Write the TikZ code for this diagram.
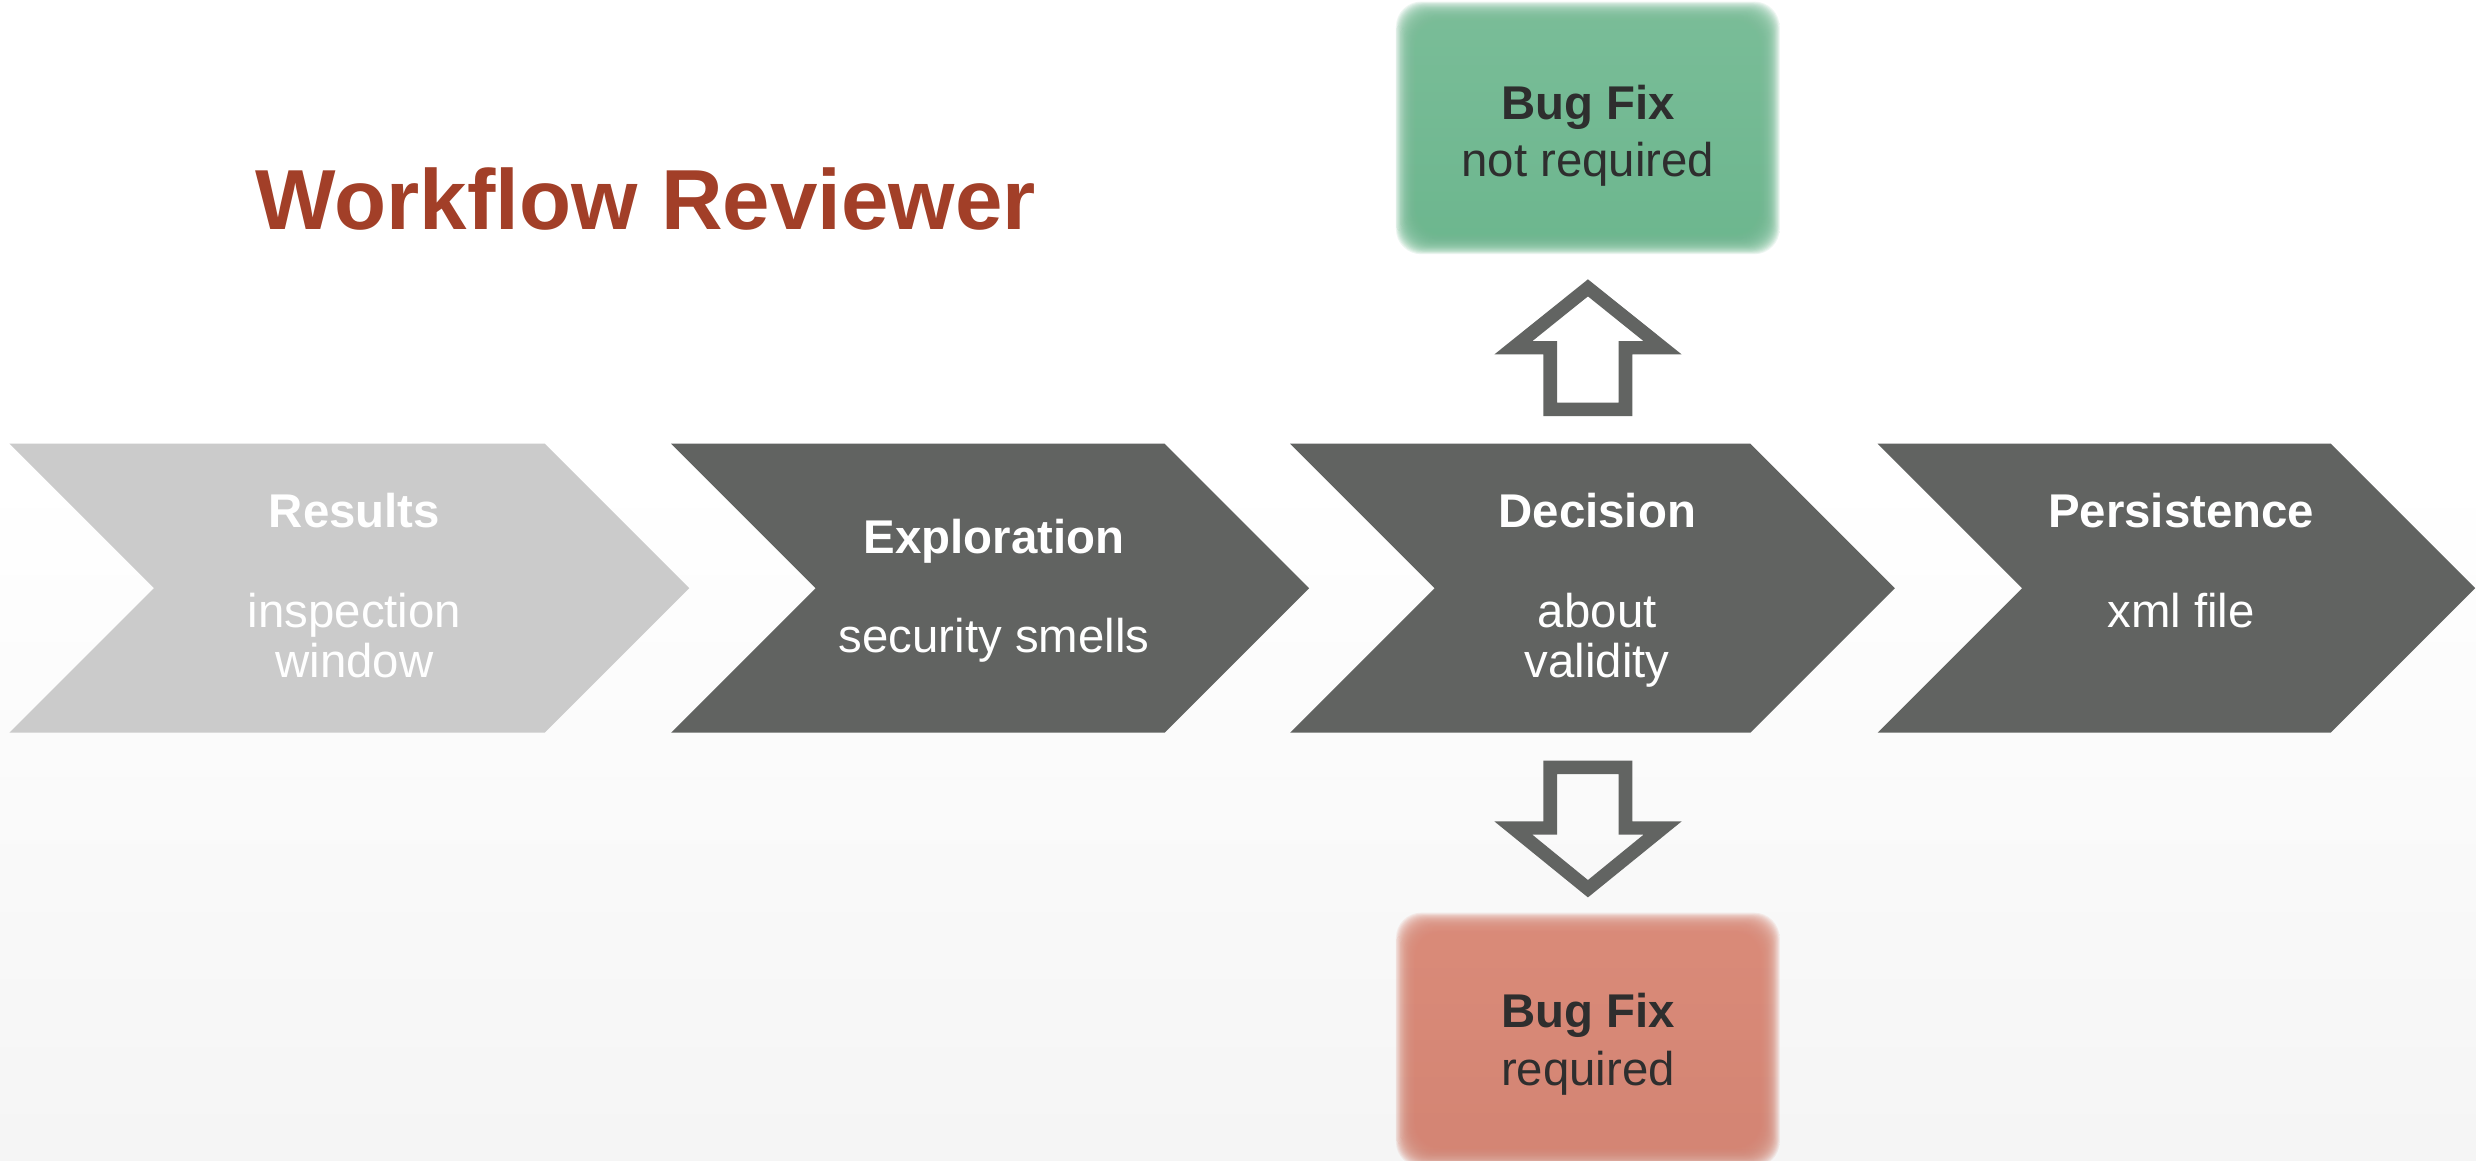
\documentclass[tikz,border=0pt]{standalone}
\usepackage{fontspec}
\setmainfont{Liberation Sans}
\definecolor{chevdark}{RGB}{97,99,97}
\definecolor{chevlight}{RGB}{203,203,203}
\definecolor{arrowgray}{RGB}{98,100,98}
\definecolor{titlered}{RGB}{162,63,40}
\definecolor{boxtext}{RGB}{46,46,46}
\definecolor{gTop}{RGB}{122,189,152}
\definecolor{gMid}{RGB}{88,177,128}
\definecolor{gBot}{RGB}{108,182,142}
\definecolor{rTop}{RGB}{218,139,121}
\definecolor{rMid}{RGB}{204,118,97}
\definecolor{rBot}{RGB}{211,132,115}
\newcommand\chevshape[3]{%
  \fill[#3] (#1,281) -- (#2,281) -- ({#2+91.5},372.5) -- (#2,464) -- (#1,464) -- ({#1+91.5},372.5) -- cycle;}
\newcommand\softbox[5]{%
  \foreach \k in {6,5.5,...,-8}{%
    \begin{scope}
      \clip[rounded corners=16] ({#1-\k},{#2-\k}) rectangle ({#3+\k},{#4+\k});
      \shade[fill opacity=0.12, top color=#5Top, middle color=#5Mid, bottom color=#5Bot]
        ({#1-6},{#2-6}) rectangle ({#3+6},{#4+6});
    \end{scope}}
  \begin{scope}
    \clip[rounded corners=12] ({#1+8},{#2+8}) rectangle ({#3-8},{#4-8});
    \shade[top color=#5Top, middle color=#5Mid, bottom color=#5Bot]
      ({#1-6},{#2-6}) rectangle ({#3+6},{#4+6});
  \end{scope}}
\tikzset{
  steptitle/.style={font=\fontsize{30}{32}\selectfont\bfseries, text=white, anchor=base, inner sep=0pt},
  stepdesc/.style={font=\fontsize{30}{32}\selectfont, text=white, anchor=base, inner sep=0pt},
  fixtitle/.style={font=\fontsize{30}{32}\selectfont\bfseries, text=boxtext, anchor=base, inner sep=0pt},
  fixdesc/.style={font=\fontsize{30}{32}\selectfont, text=boxtext, anchor=base, inner sep=0pt},
  blockarrow/.style={fill=arrowgray, even odd rule},
}
\begin{document}
\begin{tikzpicture}[x=1pt,y=-1pt]
% background
\useasboundingbox (0,0) rectangle (1568,735);
\fill[white] (0,0) rectangle (1568,735);
\shade[top color=white, bottom color=black!4] (0,300) rectangle (1568,735);

% title
\node[anchor=base west, font=\fontsize{54}{60}\selectfont\bfseries, text=titlered, inner sep=0pt] (title) at (161.6,145.2) {Workflow Reviewer};

% chevrons
\chevshape{6}{345}{chevlight}
\chevshape{425}{737.5}{chevdark}
\chevshape{817}{1108.5}{chevdark}
\chevshape{1189}{1476}{chevdark}

% chevron texts
\node[steptitle] (results) at (224.5,334.2) {Results};
\node[stepdesc] (results-a) at (224.5,397.5) {inspection};
\node[stepdesc] (results-b) at (224.5,429.2) {window};

\node[steptitle] (explore) at (629.5,350.4) {Exploration};
\node[stepdesc] (explore-a) at (629.5,413.1) {security smells};

\node[steptitle] (decision) at (1011.5,334.2) {Decision};
\node[stepdesc] (decision-a) at (1011.5,397.5) {about};
\node[stepdesc] (decision-b) at (1011.5,429.2) {validity};

\node[steptitle] (persist) at (1381.3,334.2) {Persistence};
\node[stepdesc] (persist-a) at (1381.3,397.5) {xml file};

% result boxes
\softbox{890}{7}{1121}{155}{g}
\softbox{890}{584}{1121}{733}{r}
\node[fixtitle] (fixok) at (1005.6,75.4) {Bug Fix};
\node[fixdesc] (fixok-d) at (1005.6,111.9) {not required};
\node[fixtitle] (fixreq) at (1005.6,650.6) {Bug Fix};
\node[fixdesc] (fixreq-d) at (1005.6,687.2) {required};

% up block arrow
\fill[blockarrow]
  (1005.6,176.9) -- (1064.9,224.4) -- (1033.7,224.4) -- (1033.7,263.5) -- (977.4,263.5) -- (977.4,224.4) -- (946.4,224.4) -- cycle
  (1005.6,187.7) -- (1040.8,216) -- (1025.1,216) -- (1025.1,255.0) -- (986.1,255.0) -- (986.1,216) -- (970.4,216) -- cycle;
% down block arrow
\fill[blockarrow]
  (1005.6,568.3) -- (1064.9,520.2) -- (1033.7,520.2) -- (1033.7,481.7) -- (977.4,481.7) -- (977.4,520.2) -- (946.4,520.2) -- cycle
  (1005.6,557.3) -- (1040.8,528.6) -- (1025.1,528.6) -- (1025.1,490.2) -- (986.1,490.2) -- (986.1,528.6) -- (970.4,528.6) -- cycle;
\end{tikzpicture}
\end{document}
